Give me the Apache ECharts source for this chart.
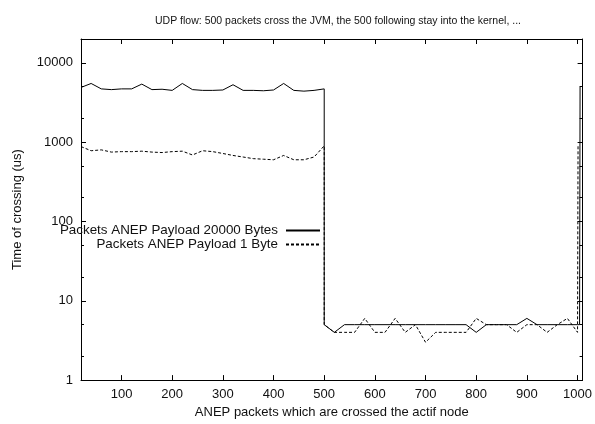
<!DOCTYPE html>
<html>
<head>
<meta charset="utf-8">
<script src="https://cdn.jsdelivr.net/npm/echarts@6/dist/echarts.min.js"></script>
<style>html,body{margin:0;padding:0;background:#fff}#c{width:595px;height:424px}</style>
</head>
<body>
<div id="c"></div>
<script>
// ---- data ----
const titleText = 'UDP flow: 500 packets cross the JVM, the 500 following stay into the kernel, ...';
const xName = 'ANEP packets which are crossed the actif node';
const yName = 'Time of crossing (us)';
const seriesNames = ['Packets ANEP Payload 20000 Bytes', 'Packets ANEP Payload 1 Byte'];
const xTicks = [100, 200, 300, 400, 500, 600, 700, 800, 900, 1000];
const yTicks = [1, 10, 100, 1000, 10000];
const yMinorTicks = [2, 5, 20, 50, 200, 500, 2000, 5000];

// first phase (through the JVM)
const xFirst = [20, 40, 60, 80, 100, 120, 140, 160, 180, 200, 220, 240, 260, 280, 300, 320, 340, 360, 380, 400, 420, 440, 460, 480, 500];
const solidFirst = [4900, 5500, 4700, 4600, 4700, 4700, 5400, 4600, 4650, 4500, 5500, 4600, 4500, 4500, 4550, 5300, 4500, 4500, 4450, 4550, 5500, 4500, 4400, 4500, 4700];
const dashedFirst = [880, 780, 800, 750, 760, 760, 770, 750, 740, 760, 770, 690, 780, 760, 720, 680, 650, 620, 610, 600, 680, 600, 600, 650, 900];

// second phase (kernel)
const xSecond = [500, 520, 540, 560, 580, 600, 620, 640, 660, 680, 700, 720, 740, 760, 780, 800, 820, 840, 860, 880, 900, 920, 940, 960, 980, 1000];
const solidSecond = [5, 4, 5, 5, 5, 5, 5, 5, 5, 5, 5, 5, 5, 5, 5, 4, 5, 5, 5, 5, 6, 5, 5, 5, 5, 5];
const dashedSecond = [5, 4, 4, 4, 6, 4, 4, 6, 4, 5, 3, 4, 4, 4, 4, 6, 5, 5, 5, 4, 5, 5, 4, 5, 6, 4];

// final jump
const xSolidEnd = [1004, 1005];
const solidEnd = [5, 5000];
const xDashedEnd = [1001];
const dashedEnd = [900];

function pairs(xs, ys) { return xs.map((x, i) => [x, ys[i]]); }
const solidData = pairs(xFirst, solidFirst).concat(pairs(xSecond, solidSecond), pairs(xSolidEnd, solidEnd));
const dashedData = pairs(xFirst, dashedFirst).concat(pairs(xSecond, dashedSecond), pairs(xDashedEnd, dashedEnd));

const FONT = 'Liberation Sans, Arial, Helvetica, sans-serif';
const FS = 13;
const TXT = '#111';
const chart = echarts.init(document.getElementById('c'), null, { renderer: 'canvas' });

const xBase = { type: 'value', min: 20, max: 1010, splitLine: { show: false } };
const yBase = { type: 'log', logBase: 10, min: 1, max: 20000, splitLine: { show: false } };
const line = { show: true, lineStyle: { color: '#000', width: 1 } };
const plain = v => String(v);

chart.setOption({
  animation: false,
  backgroundColor: '#fff',
  textStyle: { fontFamily: FONT },
  title: {
    text: titleText, left: 333, top: 11, textAlign: 'center',
    textStyle: { fontFamily: FONT, fontSize: 10.5, fontWeight: 'normal', color: TXT }
  },
  legend: {
    orient: 'vertical', align: 'right', right: 274, top: 224, padding: 0,
    itemWidth: 34, itemHeight: 10, itemGap: 1,
    itemStyle: { color: 'transparent', borderColor: 'transparent', borderWidth: 0, opacity: 0 },
    textStyle: { fontFamily: FONT, fontSize: 13.4, color: TXT, padding: [0, 3, 0, 0] },
    data: seriesNames
  },
  grid: { left: 81, right: 9, top: 39, bottom: 42, containLabel: false },
  xAxis: [
    Object.assign({}, xBase, {
      position: 'bottom', name: xName, nameLocation: 'middle', nameGap: 24,
      nameTextStyle: { fontFamily: FONT, fontSize: FS, color: TXT },
      axisLine: line,
      axisTick: { show: true, inside: true, length: 5, customValues: xTicks, lineStyle: { color: '#000' } },
      axisLabel: { customValues: xTicks, formatter: plain, margin: 8, fontFamily: FONT, fontSize: FS, color: TXT }
    }),
    Object.assign({}, xBase, {
      position: 'top',
      axisLine: line,
      axisTick: { show: true, inside: true, length: 5, customValues: xTicks, lineStyle: { color: '#000' } },
      axisLabel: { show: false }
    })
  ],
  yAxis: [
    Object.assign({}, yBase, {
      position: 'left', name: yName, nameLocation: 'middle', nameGap: 57, nameRotate: 90,
      nameTextStyle: { fontFamily: FONT, fontSize: FS, color: TXT },
      axisLine: line,
      axisTick: { show: true, inside: true, length: 5, customValues: yTicks, lineStyle: { color: '#000' } },
      axisLabel: { customValues: yTicks, formatter: plain, margin: 8, fontFamily: FONT, fontSize: FS, color: TXT }
    }),
    Object.assign({}, yBase, {
      position: 'right',
      axisLine: line,
      axisTick: { show: true, inside: true, length: 5, customValues: yTicks, lineStyle: { color: '#000' } },
      axisLabel: { show: false }
    }),
    Object.assign({}, yBase, {
      position: 'left',
      axisLine: { show: false },
      axisTick: { show: true, inside: true, length: 3, customValues: yMinorTicks, lineStyle: { color: '#000' } },
      axisLabel: { show: false }
    }),
    Object.assign({}, yBase, {
      position: 'right',
      axisLine: { show: false },
      axisTick: { show: true, inside: true, length: 3, customValues: yMinorTicks, lineStyle: { color: '#000' } },
      axisLabel: { show: false }
    })
  ],
  series: [
    {
      name: seriesNames[0], type: 'line', xAxisIndex: 0, yAxisIndex: 0,
      data: solidData, symbol: 'none', showSymbol: false, clip: true,
      lineStyle: { color: '#000', width: 1, type: 'solid' },
      itemStyle: { color: '#000' }
    },
    {
      name: seriesNames[1], type: 'line', xAxisIndex: 0, yAxisIndex: 0,
      data: dashedData, symbol: 'none', showSymbol: false, clip: true,
      lineStyle: { color: '#000', width: 1, type: [3, 2] },
      itemStyle: { color: '#000' }
    }
  ]
});
</script>
</body>
</html>
